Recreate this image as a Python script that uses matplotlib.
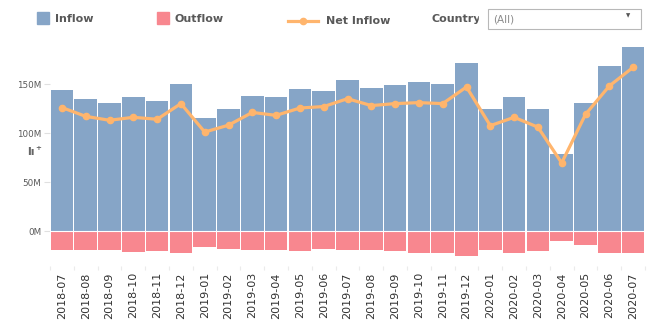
import matplotlib
matplotlib.use("Agg")
import matplotlib.pyplot as plt
from matplotlib.patches import Rectangle
from matplotlib.lines import Line2D


months = ["2018-07", "2018-08", "2018-09", "2018-10", "2018-11", "2018-12",
          "2019-01", "2019-02", "2019-03", "2019-04", "2019-05", "2019-06",
          "2019-07", "2019-08", "2019-09", "2019-10", "2019-11", "2019-12",
          "2020-01", "2020-02", "2020-03", "2020-04", "2020-05", "2020-06",
          "2020-07"]

# values in millions
inflow = [144, 135, 131, 137, 133, 150, 115, 124, 138, 137, 145, 143,
          154, 146, 149, 152, 150, 171, 124, 137, 125, 79, 131, 168, 188]
outflow = [19, 19, 19, 21, 20, 22, 16, 18, 19, 19, 20, 18,
           19, 19, 20, 22, 22, 25, 19, 22, 20, 10, 14, 22, 22]
net_inflow = [126, 117, 113, 116, 114, 130, 101, 108, 121, 118, 125.5, 127,
              135, 128, 130, 131, 130, 147, 107.5, 116, 106, 69.5, 119, 148, 167]

y_ticks = [0, 50, 100, 150]
y_tick_labels = ["0M", "50M", "100M", "150M"]

BLUE = "#86a5c7"
PINK = "#f8878f"
ORANGE = "#ffb56d"
GRAY = "#595959"

W, H = 670, 330


def fx(x):
    return x / W


def fy(y):
    return 1 - y / H


fig = plt.figure(figsize=(6.7, 3.3), dpi=100)
ax = fig.add_axes([fx(50), fy(266), 595 / W, 226 / H])

x = list(range(len(months)))
ax.bar(x, inflow, width=0.955, color=BLUE, zorder=1)
ax.bar(x, [-v for v in outflow], width=0.955, color=PINK, zorder=1)
ax.axhline(0, color="white", lw=0.8, zorder=2)
ax.plot(x, net_inflow, color=ORANGE, lw=2.3, marker="o", ms=4.5, zorder=3)

ax.set_xlim(-0.5, len(months) - 0.5)
ax.set_ylim(-35.7, 194.9)

ax.set_yticks(y_ticks)
ax.set_yticklabels(y_tick_labels)
ax.tick_params(axis="y", length=4.3, width=0.8, color="#e0e0e0", pad=2,
               labelsize=6.3, labelcolor=GRAY)

ax.set_xticks(x)
ax.set_xticklabels(months, rotation=90, fontsize=8, color="#333333")
ax.set_xticks([i - 0.5 for i in range(len(months) + 1)], minor=True)
ax.tick_params(axis="x", which="major", length=0, pad=4.5)
ax.tick_params(axis="x", which="minor", length=3, width=0.8, color="#ebebeb")

for s in ax.spines.values():
    s.set_visible(False)

# legend / header
fig.add_artist(Rectangle((fx(37.3), fy(24)), 11.4 / W, 11.7 / H,
                         transform=fig.transFigure, color=BLUE))
fig.text(fx(55), fy(18.5), "Inflow", fontsize=8, fontweight="bold",
         color=GRAY, va="center")
fig.add_artist(Rectangle((fx(157.3), fy(24)), 11.4 / W, 11.7 / H,
                         transform=fig.transFigure, color=PINK))
fig.text(fx(175), fy(18.5), "Outflow", fontsize=8, fontweight="bold",
         color=GRAY, va="center")
fig.add_artist(Line2D([fx(288.3), fx(317.7)], [fy(20.7), fy(20.7)],
                      transform=fig.transFigure, color=ORANGE, lw=2.3))
fig.add_artist(Line2D([fx(303.3)], [fy(20.7)], transform=fig.transFigure,
                      color=ORANGE, marker="o", ms=4.5))
fig.text(fx(326.5), fy(21), "Net Inflow", fontsize=8, fontweight="bold",
         color=GRAY, va="center")

fig.text(fx(431), fy(19.5), "Country", fontsize=8, fontweight="bold",
         color=GRAY, va="center")
fig.add_artist(Rectangle((fx(478.5), fy(30)), 9 / W, 22 / H,
                         transform=fig.transFigure, color="white", zorder=5))
fig.add_artist(Rectangle((fx(487.7), fy(28.7)), 153.6 / W, 19.7 / H,
                         transform=fig.transFigure, facecolor="white",
                         edgecolor="#b8b8b8", lw=0.8, zorder=6))
fig.text(fx(492.7), fy(19), "(All)", fontsize=7.5, color="#8a8a8a",
         va="center", zorder=7)
fig.text(fx(628), fy(16), "\u25bc", fontsize=4, color="#555555",
         ha="center", va="center", zorder=7)

# small chart-type icon at left
fig.text(fx(27), fy(152), "l\u0131", fontsize=8, fontweight="bold",
         color="#666666", va="center")
fig.text(fx(35.5), fy(147.5), "+", fontsize=5, fontweight="bold",
         color="#666666", va="center")

fig.savefig("out.png", dpi=100)
